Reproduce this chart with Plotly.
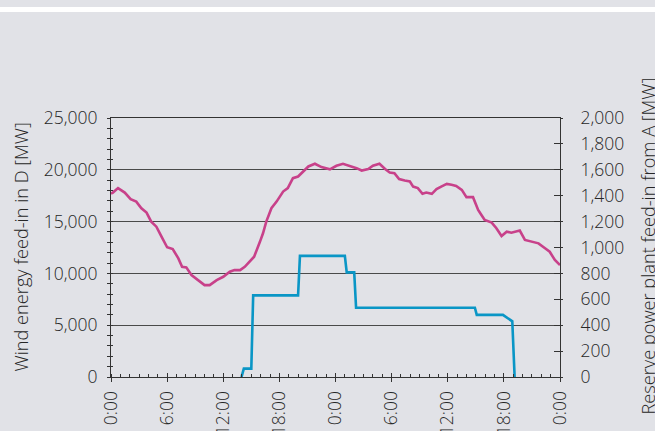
import plotly.graph_objects as go

# ---- data ----
wind_hours = [0.0, 0.2, 0.75, 1.47, 2.1, 2.7, 3.25, 3.8, 4.3, 4.85, 5.4, 6.0, 6.6, 7.2, 7.6,
              8.05, 8.6, 9.3, 10.0, 10.55, 11.3, 12.0, 12.7, 13.2, 13.8, 14.3, 14.8, 15.3,
              15.9, 16.25, 16.6, 17.15, 17.7, 18.4, 18.9, 19.45, 20.0, 20.5, 21.1, 21.8,
              22.5, 23.4, 24.1, 24.8, 25.5, 26.25, 26.8, 27.5, 28.0, 28.7, 29.3, 29.8,
              30.3, 30.8, 31.4, 31.95, 32.3, 32.8, 33.3, 33.7, 34.3, 34.8, 35.3, 35.9,
              36.4, 36.9, 37.5, 38.0, 38.7, 39.25, 39.6, 39.95, 40.7, 41.2, 41.75, 42.3,
              42.8, 43.7, 44.25, 45.0, 45.7, 46.4, 46.9, 47.45, 48.0]
wind_mw = [17700, 17800, 18230, 17800, 17160, 16930, 16290, 15870, 15000, 14510, 13545,
           12520, 12350, 11450, 10640, 10580, 9840, 9355, 8870, 8870, 9355, 9675, 10160,
           10320, 10320, 10640, 11125, 11610, 13000, 13870, 15000, 16290, 16930, 17900,
           18230, 19195, 19350, 19830, 20320, 20580, 20260, 20050, 20390, 20580, 20390,
           20160, 19930, 20070, 20390, 20580, 20070, 19740, 19680, 19100, 18960, 18870,
           18380, 18230, 17680, 17800, 17680, 18130, 18380, 18640, 18550, 18450, 18060,
           17360, 17360, 16130, 15640, 15160, 14900, 14360, 13610, 14030, 13930, 14130,
           13225, 13060, 12900, 12420, 12090, 11290, 10800]

reserve_hours = [13.95, 14.2, 15.0, 15.2, 20.0, 20.2, 25.0, 25.2, 26.0, 26.2, 38.9, 39.1,
                 41.9, 42.9, 43.15]
reserve_mw = [0, 65, 65, 630, 630, 935, 935, 808, 808, 535, 535, 480, 480, 430, 0]

x_tickvals = [0, 6, 12, 18, 24, 30, 36, 42, 48]
x_ticktext = ["0:00", "6:00", "12:00", "18:00", "0:00", "6:00", "12:00", "18:00", "0:00"]

left_title = "Wind energy feed-in in D [MW]"
right_title = "Reserve power plant feed-in from A [MW]"

# ---- style ----
BG = "#e1e2e7"
TXT = "#262626"
AX = "#333333"
FONT = "Open Sans"
FS = 17.5

fig = go.Figure()
fig.add_trace(go.Scatter(x=wind_hours, y=wind_mw, mode="lines",
                         line=dict(color="#c8418a", width=2.6), xaxis="x", yaxis="y",
                         showlegend=False, hoverinfo="skip"))
fig.add_trace(go.Scatter(x=reserve_hours, y=reserve_mw, mode="lines",
                         line=dict(color="#0a96c6", width=2.6), xaxis="x", yaxis="y2",
                         showlegend=False, hoverinfo="skip"))
# dummy traces for overlay tick axes (crossing ticks)
fig.add_trace(go.Scatter(x=[None], y=[None], xaxis="x2", yaxis="y3", showlegend=False,
                         hoverinfo="skip"))
fig.add_trace(go.Scatter(x=[None], y=[None], xaxis="x2", yaxis="y4", showlegend=False,
                         hoverinfo="skip"))

tfont = dict(family=FONT, size=FS, color=TXT, weight=300)
title_font = dict(family=FONT, size=18.2, color=TXT, weight=300)

fig.update_layout(
    width=655, height=431,
    margin=dict(l=111, r=95, t=118, b=54, pad=0),
    paper_bgcolor=BG, plot_bgcolor=BG,
    font=dict(family=FONT, size=FS, color=TXT),
    xaxis=dict(range=[0, 48], tickmode="array", tickvals=x_tickvals, ticktext=x_ticktext,
               tickangle=-90, ticks="outside", ticklen=4, tickcolor=AX, tickwidth=1,
               showline=True, linecolor=AX, linewidth=1, mirror=True,
               showgrid=False, zeroline=False, automargin=False,
               ticklabelstandoff=2,
               minor=dict(tick0=0, dtick=1, ticks="inside", ticklen=3, tickcolor=AX,
                          showgrid=False),
               tickfont=tfont),
    xaxis2=dict(range=[0, 48], overlaying="x", side="bottom", tickmode="array",
                tickvals=x_tickvals, ticks="inside", ticklen=4, tickcolor=AX,
                showticklabels=False, showline=False, showgrid=False, zeroline=False,
                automargin=False),
    yaxis=dict(range=[0, 25000], tickmode="linear", tick0=0, dtick=5000, tickformat=",",
               ticks="outside", ticklen=3, tickcolor=AX, showline=True, linecolor=AX,
               linewidth=1, showgrid=True, gridcolor="#4a4a4a", gridwidth=1,
               zeroline=False, automargin=False, ticklabelstandoff=6,
               minor=dict(tick0=0, dtick=1000, ticks="outside", ticklen=3, tickcolor=AX,
                          showgrid=False),
               tickfont=tfont),
    yaxis2=dict(range=[0, 2000], overlaying="y", side="right", tickmode="linear", tick0=0,
                dtick=200, tickformat=",", ticks="outside", ticklen=2, tickcolor=AX,
                showline=True, linecolor=AX, linewidth=1, showgrid=False,
                zeroline=False, automargin=False, ticklabelstandoff=14,
                tickfont=tfont),
    yaxis3=dict(range=[0, 25000], overlaying="y", side="left", tickmode="linear", tick0=0,
                dtick=5000, ticks="inside", ticklen=2, tickcolor=AX, showticklabels=False,
                showline=False, showgrid=False, zeroline=False, automargin=False,
                minor=dict(tick0=0, dtick=1000, ticks="inside", ticklen=2, tickcolor=AX)),
    yaxis4=dict(range=[0, 2000], overlaying="y", side="right", tickmode="linear", tick0=0,
                dtick=200, ticks="inside", ticklen=6, tickcolor=AX, showticklabels=False,
                showline=False, showgrid=False, zeroline=False, automargin=False),
    shapes=[dict(type="rect", xref="paper", yref="paper", x0=-0.5, x1=1.5,
                 y0=(377 - 12) / 259, y1=(377 - 7) / 259, fillcolor="white",
                 line=dict(width=0), layer="below")],
    annotations=[
        dict(text=left_title, xref="paper", yref="paper", x=0, y=0.5, xshift=-91,
             textangle=-90, showarrow=False, xanchor="center", yanchor="middle",
             font=title_font),
        dict(text=right_title, xref="paper", yref="paper", x=1, y=0.5, xshift=87,
             yshift=1, textangle=-90, showarrow=False, xanchor="center",
             yanchor="middle", font=title_font),
    ],
)

fig.write_html(
    "out.html",
    config={"displayModeBar": False},
    post_script=("document.body.style.margin='0';"
                 "document.body.style.overflow='hidden';"),
)
